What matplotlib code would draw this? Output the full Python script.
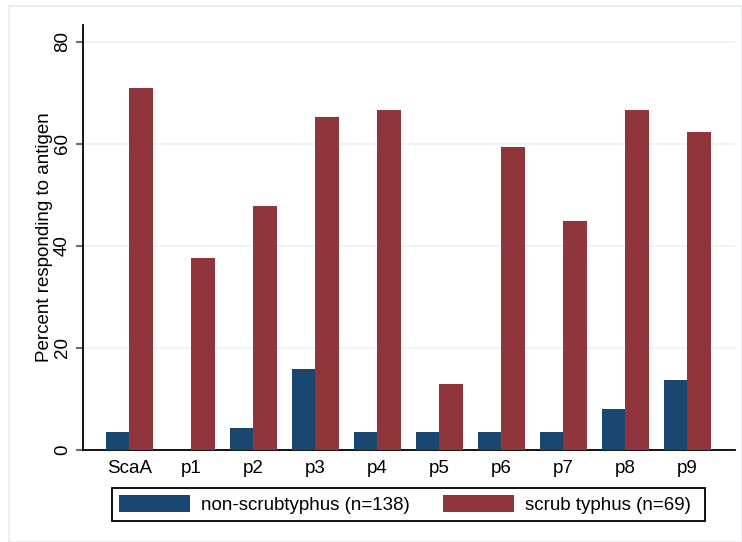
import matplotlib
matplotlib.use("Agg")
import matplotlib.pyplot as plt
import numpy as np
from matplotlib.patches import Rectangle, Patch

categories = ["ScaA", "p1", "p2", "p3", "p4", "p5", "p6", "p7", "p8", "p9"]
non_scrub = [3.6, 0.0, 4.3, 15.9, 3.6, 3.6, 3.6, 3.6, 8.0, 13.8]
scrub = [71.0, 37.7, 47.8, 65.2, 66.7, 13.0, 59.4, 44.9, 66.7, 62.3]
series_labels = ["non-scrubtyphus (n=138)", "scrub typhus (n=69)"]
yticks = [0, 20, 40, 60, 80]

blue = "#1a476f"
red = "#90353b"
grid_c = "#eaf2f3"

plt.rcParams["font.family"] = ["Liberation Sans", "DejaVu Sans"]
fs = 13.5
plt.rcParams["font.size"] = fs
fpx = fs * 100 / 72

W, H = 742, 542
fig = plt.figure(figsize=(W / 100, H / 100), dpi=100)
fig.patch.set_facecolor("white")
fig.add_artist(Rectangle((9 / W, 0), (W - 9) / W, (H - 6) / H, transform=fig.transFigure,
                         fill=False, edgecolor="#e4ecee", lw=1.2))

ax = fig.add_axes([83 / W, (H - 450) / H, (735 - 83) / W, (450 - 25) / H])
x = np.arange(len(categories))
bw = 0.38
ax.bar(x - bw / 2, non_scrub, width=bw, color=blue, zorder=3, label=series_labels[0])
ax.bar(x + bw / 2, scrub, width=bw, color=red, zorder=3, label=series_labels[1])

ax.set_xlim(-0.75, 9.77)
ax.set_ylim(0, 83.3)
ax.set_yticks(yticks)
ax.set_yticklabels([str(v) for v in yticks], rotation=90, va="center")
ax.set_xticks(x)
ax.set_xticklabels(categories)
ax.tick_params(axis="x", length=0, pad=7)
ax.tick_params(axis="y", length=5, width=1.5, color="#6e6e6e", pad=3.6)
ax.yaxis.grid(True, color=grid_c, lw=1.2, zorder=0)
ax.set_axisbelow(True)
for s in ["top", "right"]:
    ax.spines[s].set_visible(False)
for s in ["left", "bottom"]:
    ax.spines[s].set_color("black")
    ax.spines[s].set_linewidth(1.3)
ax.set_ylabel("Percent responding to antigen", labelpad=1)

handles = [Patch(facecolor=blue), Patch(facecolor=red)]
leg = fig.legend(handles, series_labels, ncol=2, loc="upper left",
                 bbox_to_anchor=(112 / W, (H - 488) / H),
                 frameon=False,
                 handlelength=71 / fpx, handleheight=19 / fpx, handletextpad=11 / fpx,
                 borderpad=7 / fpx, borderaxespad=0, columnspacing=33 / fpx)
fig.add_artist(Rectangle((112 / W, (H - 521) / H), (705 - 112) / W, 33 / H,
                         transform=fig.transFigure, fill=False, edgecolor="black", lw=1.3))

fig.savefig("out.png", dpi=100, facecolor="white")
